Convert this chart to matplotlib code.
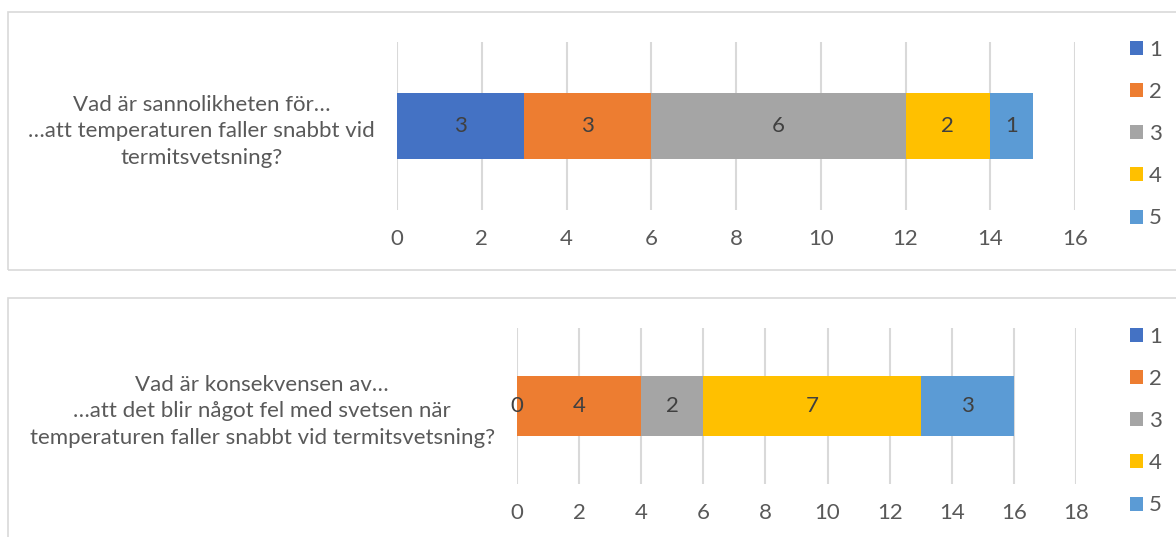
import matplotlib.pyplot as plt
from matplotlib.patches import Rectangle

plt.rcParams['font.family'] = ['Lato', 'DejaVu Sans']

# data
series = ['1', '2', '3', '4', '5']
colors = ['#4472C4', '#ED7D31', '#A5A5A5', '#FFC000', '#5B9BD5']

q1_label = 'Vad är sannolikheten för…\n…att temperaturen faller snabbt vid\ntermitsvetsning?'
q1_values = [3, 3, 6, 2, 1]
q1_ticks = [0, 2, 4, 6, 8, 10, 12, 14, 16]

q2_label = 'Vad är konsekvensen av…\n…att det blir något fel med svetsen när\ntemperaturen faller snabbt vid termitsvetsning?'
q2_values = [0, 4, 2, 7, 3]
q2_ticks = [0, 2, 4, 6, 8, 10, 12, 14, 16, 18]

txt = '#595959'
fs = 16

fig = plt.figure(figsize=(11.76, 5.37), dpi=100)

# chart frames (Excel style)
W, H = 1176, 537
for (x0, y0, x1, y1) in [(8, 12, 1180, 270), (8, 298, 1180, 545)]:
    fig.add_artist(Rectangle((x0 / W, 1 - y1 / H), (x1 - x0) / W, (y1 - y0) / H,
                             transform=fig.transFigure, fill=False,
                             edgecolor='#D9D9D9', linewidth=1.2))


def draw(rect, label, values, ticks, leg_y):
    ax = fig.add_axes(rect)
    left = 0
    handles = []
    for name, v, c in zip(series, values, colors):
        b = ax.barh([0], [v], left=left, height=0.39, color=c, label=name, zorder=3)
        ax.bar_label(b, labels=[str(v)], label_type='center', color='#404040',
                     fontsize=fs, zorder=5)
        handles.append(b)
        left += v
    ax.set_xlim(ticks[0], ticks[-1])
    ax.set_ylim(-0.5, 0.5)
    ax.set_xticks(ticks)
    ax.grid(axis='x', color='#D9D9D9', linewidth=1.5, zorder=0)
    for s in ax.spines.values():
        s.set_visible(False)
    ax.tick_params(axis='x', length=0, pad=14, labelsize=fs, labelcolor=txt)
    ax.set_yticks([0], [label])
    ax.tick_params(axis='y', length=0, pad=16, labelsize=fs, labelcolor=txt)
    for t in ax.get_yticklabels():
        t.set_multialignment('center')
        t.set_linespacing(1.42)
    fig.legend(handles=handles, labels=series, loc='center left',
               bbox_to_anchor=(1119 / W, leg_y), frameon=False, fontsize=fs,
               labelcolor=txt, handlelength=0.6, handleheight=0.6,
               handletextpad=0.25, labelspacing=1.0, borderpad=0)
    return ax


draw([397 / W, 1 - 210 / H, 678 / W, 168 / H], q1_label, q1_values, q1_ticks, 1 - 134 / H)
draw([517 / W, 1 - 484 / H, 559 / W, 156 / H], q2_label, q2_values, q2_ticks, 1 - 421 / H)

fig.savefig('out.png', dpi=100)
